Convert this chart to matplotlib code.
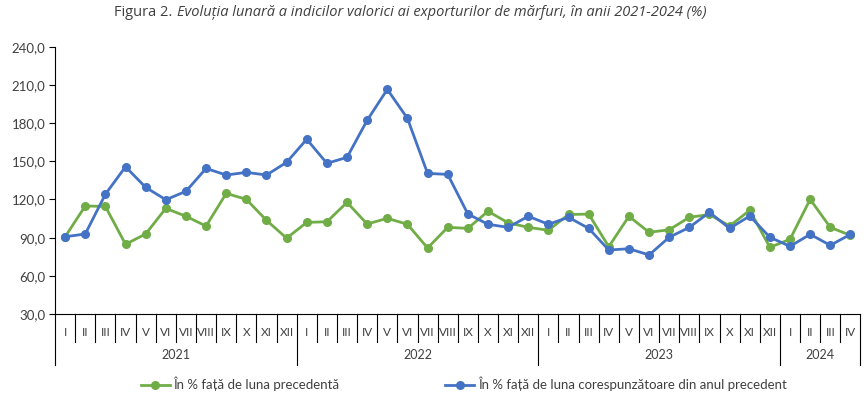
import matplotlib
matplotlib.use("Agg")
import matplotlib.pyplot as plt
from matplotlib.lines import Line2D

plt.rcParams['font.family'] = ['Lato', 'DejaVu Sans']

# Date
luni = ["I", "II", "III", "IV", "V", "VI", "VII", "VIII", "IX", "X", "XI", "XII"]
ani = ["2021", "2022", "2023", "2024"]
luni_pe_an = [12, 12, 12, 4]

luna_precedenta = [
    90.7, 114.9, 114.5, 84.8, 92.9, 113.0, 106.8, 99.1, 124.8, 120.1, 103.6, 89.6,
    102.0, 102.5, 117.7, 100.7, 105.2, 100.5, 81.9, 98.1, 97.3, 110.7, 101.7, 98.1,
    95.8, 108.2, 108.5, 82.9, 106.8, 94.2, 96.2, 106.0, 108.2, 99.1, 111.5, 82.4,
    88.7, 120.1, 98.1, 91.8,
]
anul_precedent = [
    90.7, 92.9, 124.1, 145.7, 129.5, 119.8, 126.4, 144.4, 139.2, 141.3, 139.2, 149.2,
    167.3, 148.4, 153.1, 182.2, 206.5, 183.7, 140.5, 139.7, 108.6, 100.5, 98.1, 106.8,
    100.5, 106.0, 97.3, 80.3, 81.3, 76.4, 90.3, 98.1, 109.9, 97.3, 107.0, 90.3,
    83.2, 92.6, 84.0, 92.6,
]

etichete_luni = []
for n in luni_pe_an:
    etichete_luni += luni[:n]
x = list(range(len(etichete_luni)))

text_col = "#404040"
verde = "#70AD47"
albastru = "#4472C4"

fig = plt.figure(figsize=(8.67, 3.96), dpi=100)
ax = fig.add_axes([0.0635, 0.207, 0.929, 0.675])

ax.plot(x, luna_precedenta, color=verde, lw=2, marker="o", ms=5.5,
        label="În % față de luna precedentă")
ax.plot(x, anul_precedent, color=albastru, lw=2, marker="o", ms=5.5,
        label="În % față de luna corespunzătoare din anul precedent")

ax.set_ylim(30, 240)
ax.set_yticks(range(30, 241, 30))
ax.set_yticklabels([f"{v:.1f}".replace(".", ",") for v in range(30, 241, 30)],
                   fontsize=9.5, color=text_col)
ax.set_xlim(-0.5, len(x) - 0.5)
ax.set_xticks(x)
ax.set_xticklabels(etichete_luni, fontsize=8.5, color=text_col)
ax.tick_params(axis="x", length=0, pad=9)
ax.tick_params(axis="y", length=4, width=0.8, color="black", pad=3)

for s in ["top", "right"]:
    ax.spines[s].set_visible(False)
for s in ["left", "bottom"]:
    ax.spines[s].set_color("black")
    ax.spines[s].set_linewidth(0.8)

# separatoare categorii
tr = ax.get_xaxis_transform()
granite_ani = [-0.5]
for n in luni_pe_an:
    granite_ani.append(granite_ani[-1] + n)
for i in range(len(x) + 1):
    b = i - 0.5
    jos = -0.19 if b in granite_ani else -0.105
    ax.add_line(Line2D([b, b], [0, jos], transform=tr, color="black",
                       lw=0.8, clip_on=False))

for i, an in enumerate(ani):
    centru = (granite_ani[i] + granite_ani[i + 1]) / 2
    ax.text(centru, -0.153, an, transform=tr, ha="center", va="center",
            fontsize=9, color=text_col)

fig.legend(loc="center", bbox_to_anchor=(0.535, 0.03), ncol=2, frameon=False,
           fontsize=9.5, labelcolor=text_col, columnspacing=8, handlelength=2.2,
           handletextpad=0.3)

t1 = fig.text(0.132, 0.968, "Figura 2. ", fontsize=10.5, color=text_col,
              ha="left", va="center", family=["Open Sans", "DejaVu Sans"])
ax.annotate("Evoluția lunară a indicilor valorici ai exporturilor de mărfuri, în anii 2021-2024 (%)",
            xy=(1, 0.5), xycoords=t1, va="center", ha="left", fontsize=10.5,
            style="italic", color=text_col, annotation_clip=False,
            family=["Open Sans", "DejaVu Sans"])

fig.savefig("out.png", dpi=100)
